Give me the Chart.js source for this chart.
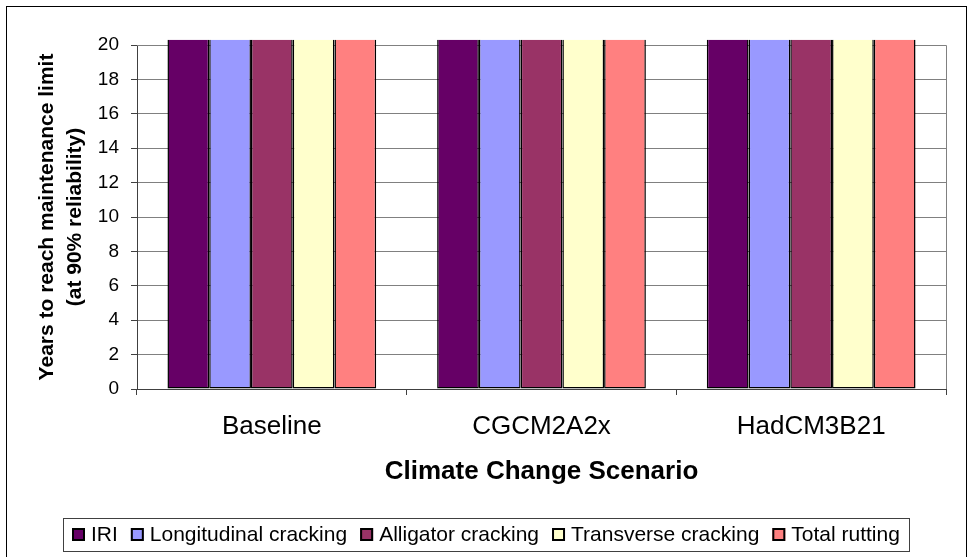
<!DOCTYPE html>
<html>
<head>
<meta charset="utf-8">
<title>Years to reach maintenance limit by climate change scenario</title>
<script src="https://cdn.jsdelivr.net/npm/chart.js@4/dist/chart.umd.min.js"></script>
<style>
  html, body { margin: 0; padding: 0; background: #fff; }
  #wrap { width: 971px; height: 557px; position: relative; }
</style>
</head>
<body>
<div id="wrap"><canvas id="chart" width="971" height="557"></canvas></div>
<script>
// Scenarios on the category axis
const scenarios = ['Baseline', 'CGCM2A2x', 'HadCM3B21'];

// Years to reach the maintenance limit (at 90% reliability); every bar runs past the top of the axis
const iri = [20.3, 20.3, 20.3];
const longitudinalCracking = [20.3, 20.3, 20.3];
const alligatorCracking = [20.3, 20.3, 20.3];
const transverseCracking = [20.3, 20.3, 20.3];
const totalRutting = [20.3, 20.3, 20.3];

const seriesNames = ['IRI', 'Longitudinal cracking', 'Alligator cracking', 'Transverse cracking', 'Total rutting'];
const seriesColors = ['#660066', '#9999FF', '#993366', '#FFFFCC', '#FF8080'];
const seriesValues = [iri, longitudinalCracking, alligatorCracking, transverseCracking, totalRutting];

// Value axis
const yMin = 0;
const yMax = 20;
const yStep = 2;

const FONT = '"Liberation Sans", Arial, Helvetica, sans-serif';
Chart.defaults.font.family = FONT;
Chart.defaults.color = '#000';

// Plot-area frame and outer chart border
const frame = {
  id: 'frame',
  beforeDatasetsDraw(chart) {
    const { ctx, chartArea: a } = chart;
    ctx.save();
    ctx.strokeStyle = '#808080';
    ctx.lineWidth = 1;
    ctx.beginPath();
    ctx.moveTo(a.left, a.top + 0.5);
    ctx.lineTo(Math.round(a.right) + 0.5, a.top + 0.5);
    ctx.lineTo(Math.round(a.right) + 0.5, a.bottom);
    ctx.stroke();
    ctx.restore();
  },
  afterDraw(chart) {
    const ctx = chart.ctx;
    ctx.save();
    ctx.strokeStyle = '#000';
    ctx.lineWidth = 1;
    ctx.strokeRect(6.5, 6.5, chart.width - 11, chart.height + 10);
    ctx.restore();
  }
};

// Boxed legend along the bottom, built from the datasets
const boxLegend = {
  id: 'boxLegend',
  afterDraw(chart) {
    const ctx = chart.ctx;
    const ds = chart.data.datasets;
    ctx.save();
    ctx.font = '21px ' + FONT;
    const box = 13, gapIn = 6, gapOut = 13, padX = 9;
    const widths = ds.map(d => ctx.measureText(d.label).width);
    let total = 0;
    widths.forEach((w, i) => { total += box + gapIn + w + (i < ds.length - 1 ? gapOut : 0); });
    const left = Math.round((chart.width - total) / 2);
    const top = 518, bottom = 551;
    const cy = (top + bottom) / 2;
    ctx.fillStyle = '#fff';
    ctx.strokeStyle = '#404040';
    ctx.lineWidth = 1;
    ctx.fillRect(left - padX, top, total + padX * 2, bottom - top);
    ctx.strokeRect(left - padX + 0.5, top + 0.5, Math.round(total + padX * 2), bottom - top);
    let x = left;
    ds.forEach((d, i) => {
      const by = Math.round(cy - box / 2);
      ctx.fillStyle = d.backgroundColor;
      ctx.fillRect(x, by, box, box);
      ctx.strokeStyle = '#000';
      ctx.lineWidth = 2;
      ctx.strokeRect(x + 1, by + 1, box - 2, box - 2);
      ctx.fillStyle = '#000';
      ctx.textBaseline = 'middle';
      ctx.textAlign = 'left';
      ctx.fillText(d.label, x + box + gapIn, cy + 1);
      x += box + gapIn + widths[i] + gapOut;
    });
    ctx.restore();
  }
};

new Chart(document.getElementById('chart'), {
  type: 'bar',
  data: {
    labels: scenarios,
    datasets: seriesNames.map((name, i) => ({
      label: name,
      data: seriesValues[i],
      backgroundColor: seriesColors[i],
      borderColor: '#000',
      borderWidth: { top: 0, left: 1.5, right: 1.5, bottom: 1.5 },
      borderSkipped: false,
      categoryPercentage: 0.774,
      barPercentage: 1.0,
      clip: false
    }))
  },
  options: {
    responsive: false,
    animation: false,
    devicePixelRatio: 1,
    layout: { padding: { left: 0, top: 45, right: 25, bottom: 0 } },
    plugins: {
      legend: { display: false },
      tooltip: { enabled: false }
    },
    scales: {
      x: {
        offset: true,
        afterFit(scale) { scale.height = 168; },
        grid: {
          offset: true,
          drawOnChartArea: false,
          drawTicks: true,
          tickLength: 6,
          tickColor: '#404040'
        },
        border: { color: '#404040', width: 1 },
        ticks: {
          font: { size: 26 },
          color: '#000',
          padding: 16,
          maxRotation: 0
        },
        title: {
          display: true,
          text: 'Climate Change Scenario',
          font: { size: 26, weight: 'bold' },
          color: '#000',
          padding: { top: 0, bottom: 70 }
        }
      },
      y: {
        min: yMin,
        max: yMax,
        afterFit(scale) { scale.width = 137; },
        grid: {
          color: '#808080',
          lineWidth: 1,
          tickLength: 6,
          tickColor: '#404040'
        },
        border: { color: '#404040', width: 1 },
        ticks: {
          stepSize: yStep,
          font: { size: 19 },
          color: '#000',
          padding: 12
        },
        title: {
          display: true,
          text: ['Years to reach maintenance limit', '(at 90% reliability)'],
          font: { size: 21, weight: 'bold', lineHeight: 1.35 },
          color: '#000',
          padding: { top: 33, bottom: 0 }
        }
      }
    }
  },
  plugins: [frame, boxLegend]
});
</script>
</body>
</html>
